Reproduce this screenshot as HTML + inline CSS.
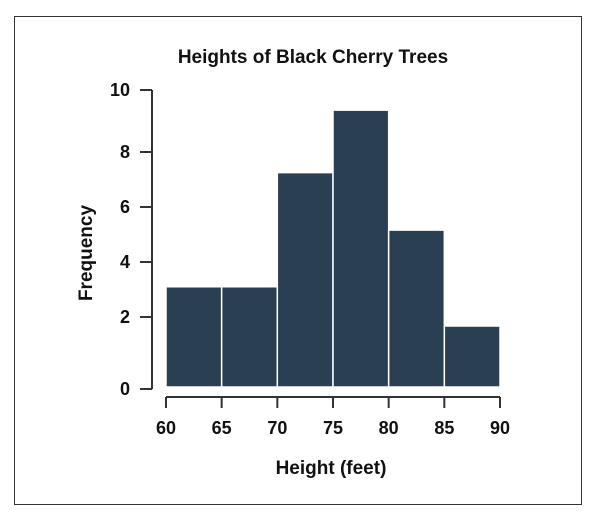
<!DOCTYPE html>
<html><head><meta charset="utf-8"><style>
body{margin:0;background:#fff;}
svg{display:block;font-family:"Liberation Sans",Arial,sans-serif;}
</style></head><body>
<svg width="595" height="513" viewBox="0 0 595 513">
<rect x="14.5" y="16.5" width="567" height="488" fill="#fff" stroke="#333" stroke-width="1"/>
<text x="313" y="63" text-anchor="middle" font-size="19" font-weight="bold" fill="#111">Heights of Black Cherry Trees</text>
<text x="331" y="474" text-anchor="middle" font-size="19" font-weight="bold" fill="#111">Height (feet)</text>
<text transform="translate(92,253) rotate(-90)" text-anchor="middle" font-size="19" font-weight="bold" fill="#111">Frequency</text>
<g id="bars"></g><g id="axes"></g>
</svg>
<script>
const binEdges=[60,65,70,75,80,85,90];
const counts=[3.1,3.1,7.25,9.35,5.16,1.75];
const yTicks=[0,2,4,6,8,10];
const xTicks=[60,65,70,75,80,85,90];
const NS="http://www.w3.org/2000/svg";
const yTickPx=[389,317,262,207,152,90];
function yS(v){
  if(v<=yTicks[0])return yTickPx[0];
  for(let i=1;i<yTicks.length;i++){
    if(v<=yTicks[i]){const t=(v-yTicks[i-1])/(yTicks[i]-yTicks[i-1]);return yTickPx[i-1]+t*(yTickPx[i]-yTickPx[i-1]);}
  }
  const n=yTicks.length-1;return yTickPx[n]+(v-yTicks[n])*(yTickPx[n]-yTickPx[n-1])/(yTicks[n]-yTicks[n-1]);
}
function xS(v){return 166+(v-60)*(500-166)/30;}
function mk(tag,attrs,parent){const e=document.createElementNS(NS,tag);for(const k in attrs)e.setAttribute(k,attrs[k]);parent.appendChild(e);return e;}
const bars=document.getElementById('bars'),axes=document.getElementById('axes');
const base=387;
counts.forEach((c,i)=>{
  const x0=xS(binEdges[i]),x1=xS(binEdges[i+1]),y=yS(c);
  const r=mk('rect',{x:x0,y:y,width:x1-x0,height:base-y,fill:'#2a3f52',stroke:'#fff','stroke-width':1.5},bars);
  
  
});
const ya=mk('line',{x1:152,y1:90,x2:152,y2:389,stroke:'#333','stroke-width':2},axes);


yTicks.forEach(v=>{
  const y=yS(v);
  const t=mk('line',{x1:140,y1:y,x2:152,y2:y,stroke:'#333','stroke-width':2},axes);
  
  
  const l=mk('text',{x:130,y:y+6,'text-anchor':'end','font-size':18,'font-weight':'bold',fill:'#111'},axes);
  l.textContent=v;
  
  
});
const xa=mk('line',{x1:166,y1:397,x2:500,y2:397,stroke:'#333','stroke-width':2},axes);


xTicks.forEach(v=>{
  const x=xS(v);
  const t=mk('line',{x1:x,y1:397,x2:x,y2:408,stroke:'#333','stroke-width':2},axes);
  
  
  const l=mk('text',{x:x,y:434,'text-anchor':'middle','font-size':18,'font-weight':'bold',fill:'#111'},axes);
  l.textContent=v;
  
  
});
</script>
</body></html>
